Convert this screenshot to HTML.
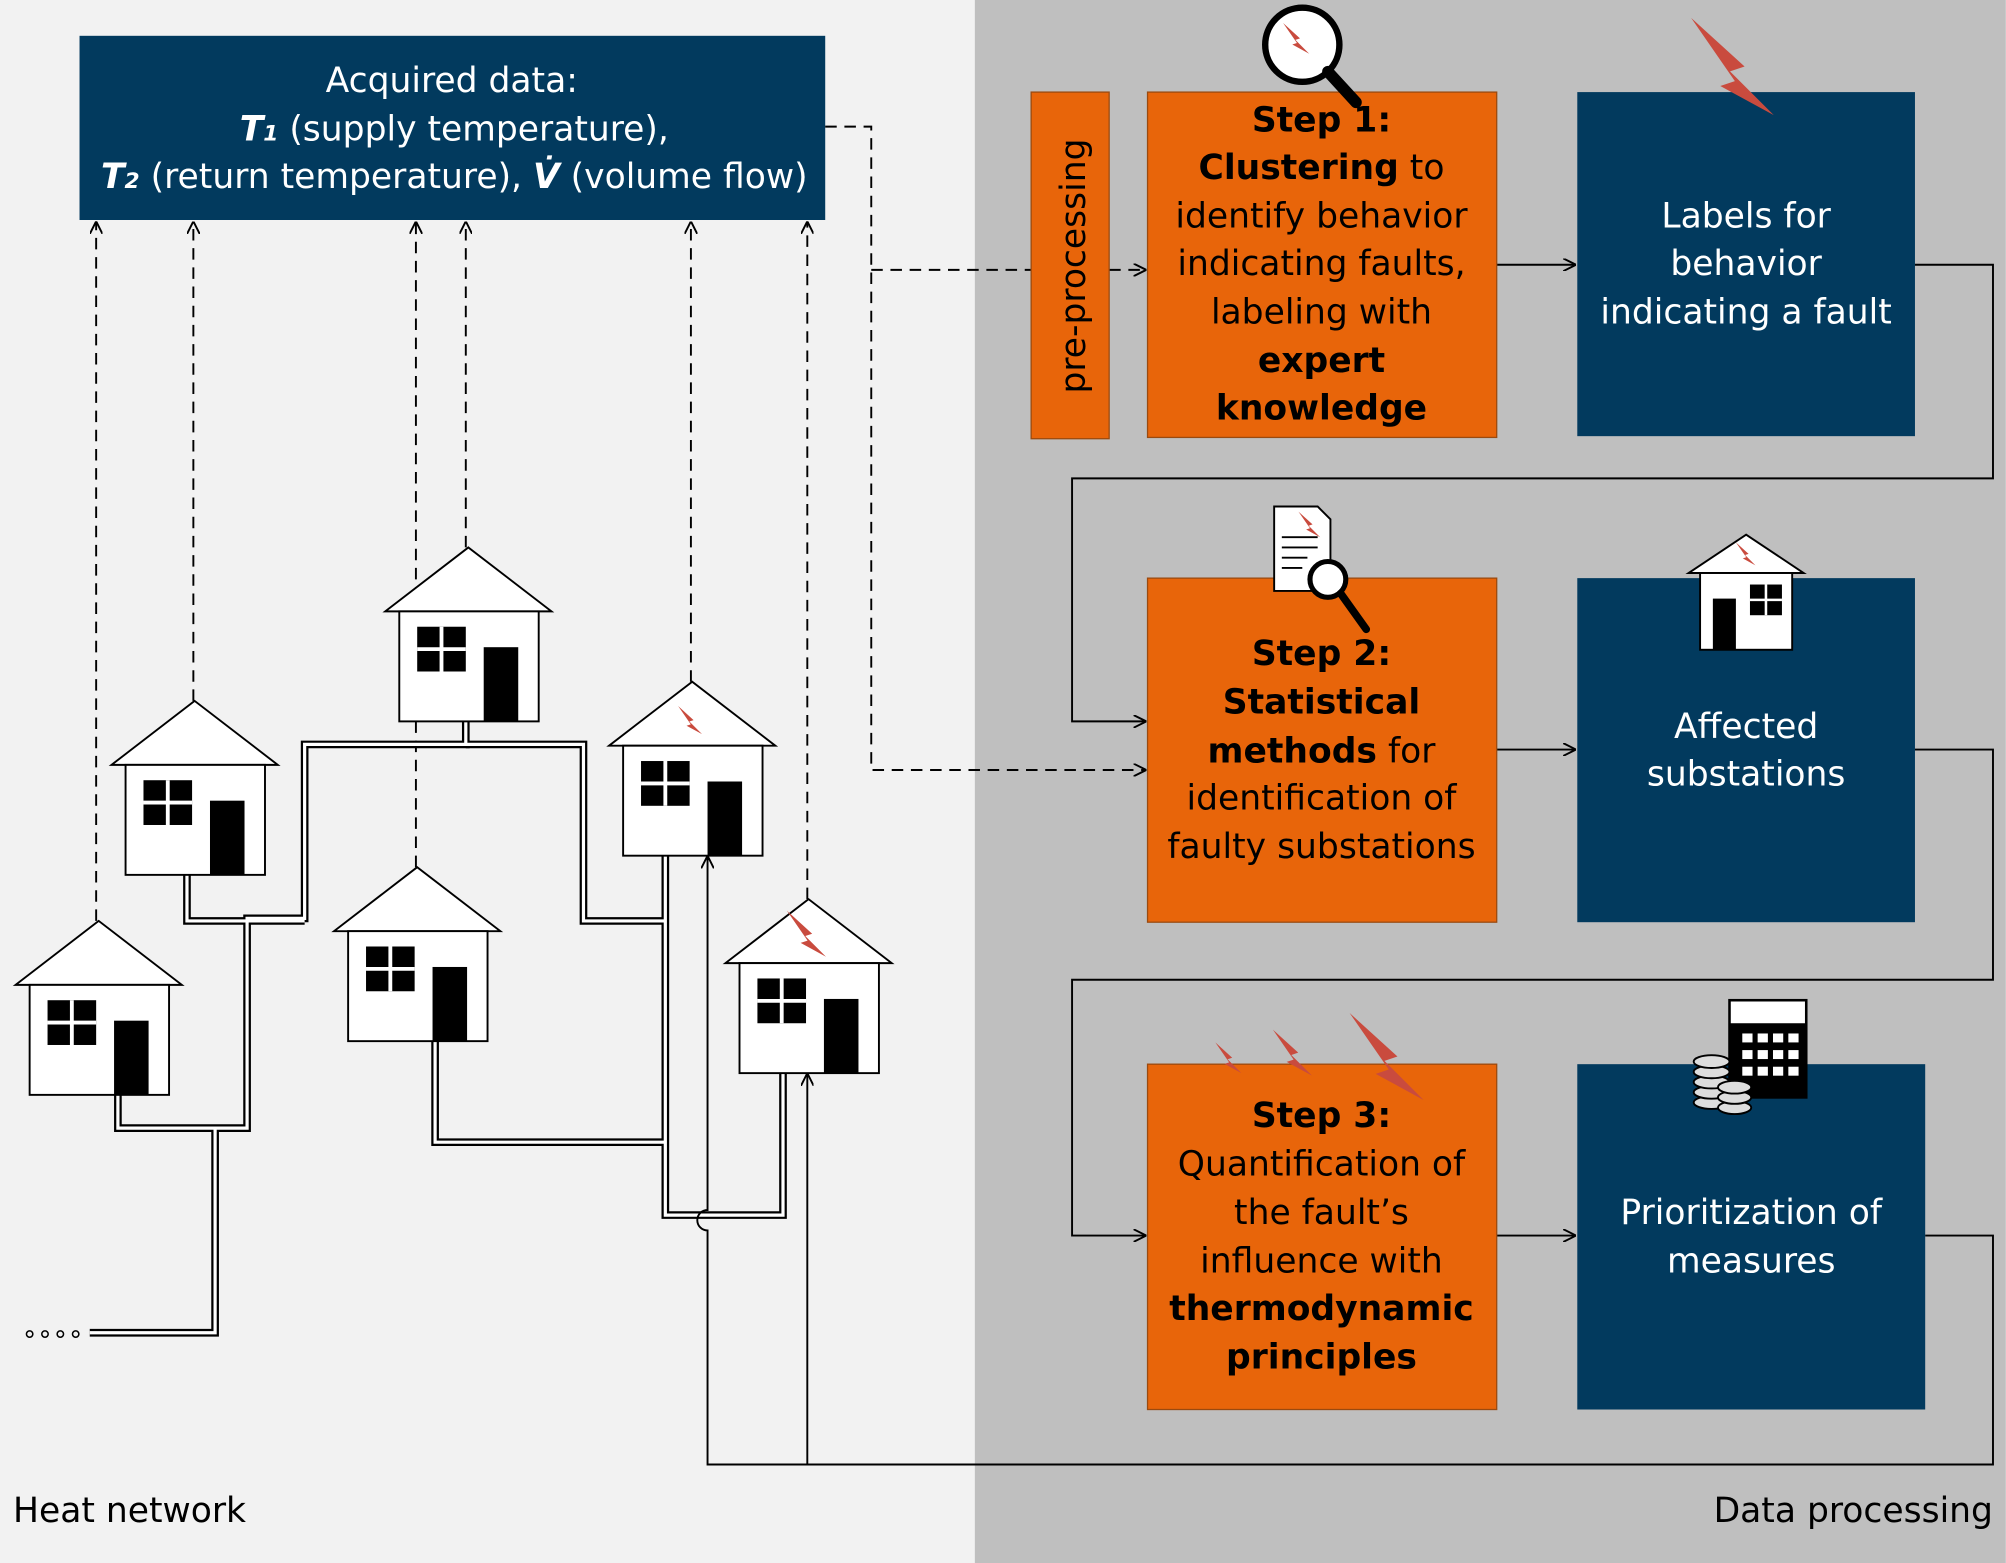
<!DOCTYPE html>
<html><head><meta charset="utf-8"><style>html,body{margin:0;padding:0;background:#f2f2f2}svg{display:block}text{font-family:"DejaVu Sans","Liberation Sans",sans-serif}</style></head><body>
<svg width="2006" height="1563" viewBox="0 0 1568 1222" xmlns="http://www.w3.org/2000/svg">
<defs>
<marker id="ar" viewBox="0 0 10 10" refX="10" refY="5" markerWidth="10" markerHeight="10" markerUnits="userSpaceOnUse" orient="auto"><path d="M0,0 L10,5 L0,10" fill="none" stroke="#000" stroke-width="1.5"/></marker>
<g id="house"><polygon points="0,0 -65,50 65,50" fill="#fff" stroke="#000" stroke-width="1.5"/><rect x="-54" y="50" width="109" height="86" fill="#fff" stroke="#000" stroke-width="1.5"/><rect x="-40" y="62" width="38" height="35" fill="#000"/><line x1="-21" y1="62" x2="-21" y2="97" stroke="#fff" stroke-width="3"/><line x1="-40" y1="79.5" x2="-2" y2="79.5" stroke="#fff" stroke-width="3"/><rect x="12" y="78" width="27" height="58" fill="#000"/></g>
<polygon id="bolt" points="0,0 22,20 16,22 34,40 12,28 18,26" fill="#c94b3e"/>
</defs>
<rect x="0" y="0" width="762" height="1222" fill="#f2f2f2"/>
<rect x="762" y="0" width="806" height="1222" fill="#bfbfbf"/>

<rect x="62" y="28" width="583" height="144" fill="#023a5e"/>
<g fill="#fff" font-size="27" text-anchor="middle">
<text x="353" y="72">Acquired data:</text>
<text x="355" y="110"><tspan font-weight="bold" font-style="italic">T</tspan><tspan font-weight="bold" font-style="italic" font-size="17">1</tspan> (supply temperature),</text>
<text x="355" y="147"><tspan font-weight="bold" font-style="italic">T</tspan><tspan font-weight="bold" font-style="italic" font-size="17">2</tspan> (return temperature), <tspan font-weight="bold" font-style="italic">V̇</tspan> (volume flow)</text>
</g>

<g stroke="#000" stroke-width="1.5" stroke-dasharray="9,6" fill="none">
<path d="M645,99 H681 V602 H896" marker-end="url(#ar)"/>
<path d="M681,211 H806"/>
<path d="M867,211 H896" marker-end="url(#ar)"/>
<path d="M75,720 V173" marker-end="url(#ar)"/>
<path d="M151,548 V173" marker-end="url(#ar)"/>
<path d="M325,678 V173" marker-end="url(#ar)"/>
<path d="M364,428 V173" marker-end="url(#ar)"/>
<path d="M540,533 V173" marker-end="url(#ar)"/>
<path d="M631,703 V173" marker-end="url(#ar)"/>
</g>

<g fill="none">
<g stroke="#000" stroke-width="6">
<path d="M92,856 V882 H193 V718 H238 V582 H364 V562"/>
<path d="M146,684 V720 H238"/>
<path d="M364,582 H456 V720 H520"/>
<path d="M340,812 V893 H520"/>
<path d="M520,668 V950 H612 V838"/>
<path d="M168,882 V1042 H70"/>
</g>
<g stroke="#fff" stroke-width="2.5">
<path d="M92,856 V882 H193 V718 H238 V582 H364 V562"/>
<path d="M146,684 V720 H238"/>
<path d="M364,582 H456 V720 H520"/>
<path d="M340,812 V893 H520"/>
<path d="M520,668 V950 H612 V838"/>
<path d="M168,882 V1042 H70"/>
</g>
</g>
<g fill="none" stroke="#000" stroke-width="1.2"><circle cx="23" cy="1043" r="2.5"/><circle cx="35" cy="1043" r="2.5"/><circle cx="47" cy="1043" r="2.5"/><circle cx="59" cy="1043" r="2.5"/></g>

<use href="#house" x="77" y="720"/>
<use href="#house" x="152" y="548"/>
<use href="#house" x="366" y="428"/>
<use href="#house" x="326" y="678"/>
<use href="#house" x="541" y="533"/>
<use href="#house" x="632" y="703"/>
<use href="#bolt" transform="translate(530,552) scale(0.55)"/>
<use href="#bolt" transform="translate(615,712) scale(0.9)"/>

<g stroke="#000" stroke-width="1.5" fill="none">
<path d="M1497,207 H1558 V374 H838 V564 H896" marker-end="url(#ar)"/>
<path d="M1497,586 H1558 V766 H838 V966 H896" marker-end="url(#ar)"/>
<path d="M1505,966 H1558 V1145 H553 V962 A8,8 0 0 1 553,946 V669" marker-end="url(#ar)"/>
<path d="M631,1145 V839" marker-end="url(#ar)"/>
<path d="M1170,207 H1232" marker-end="url(#ar)"/>
<path d="M1170,586 H1232" marker-end="url(#ar)"/>
<path d="M1170,966 H1232" marker-end="url(#ar)"/>
</g>

<g stroke="#9a4a10" stroke-width="1">
<rect x="806" y="72" width="61" height="271" fill="#e8650a"/>
<rect x="897" y="72" width="273" height="270" fill="#e8650a"/>
<rect x="897" y="452" width="273" height="269" fill="#e8650a"/>
<rect x="897" y="832" width="273" height="270" fill="#e8650a"/>
</g>
<rect x="1233" y="72" width="264" height="269" fill="#023a5e"/>
<rect x="1233" y="452" width="264" height="269" fill="#023a5e"/>
<rect x="1233" y="832" width="272" height="270" fill="#023a5e"/>

<text transform="translate(848,208) rotate(-90)" font-size="27" text-anchor="middle">pre-processing</text>

<g font-size="27" text-anchor="middle" fill="#000">
<text x="1033" y="103" font-weight="bold">Step 1:</text>
<text x="1033" y="140"><tspan font-weight="bold">Clustering</tspan> to</text>
<text x="1033" y="178">identify behavior</text>
<text x="1033" y="215">indicating faults,</text>
<text x="1033" y="253">labeling with</text>
<text x="1033" y="291" font-weight="bold">expert</text>
<text x="1033" y="328" font-weight="bold">knowledge</text>

<text x="1033" y="520" font-weight="bold">Step 2:</text>
<text x="1033" y="558" font-weight="bold">Statistical</text>
<text x="1033" y="596"><tspan font-weight="bold">methods</tspan> for</text>
<text x="1033" y="633">identification of</text>
<text x="1033" y="671">faulty substations</text>

<text x="1033" y="881" font-weight="bold">Step 3:</text>
<text x="1033" y="919">Quantification of</text>
<text x="1033" y="957">the fault’s</text>
<text x="1033" y="995">influence with</text>
<text x="1033" y="1032" font-weight="bold">thermodynamic</text>
<text x="1033" y="1070" font-weight="bold">principles</text>
</g>
<g font-size="27" text-anchor="middle" fill="#fff">
<text x="1365" y="178">Labels for</text>
<text x="1365" y="215">behavior</text>
<text x="1365" y="253">indicating a fault</text>
<text x="1365" y="577">Affected</text>
<text x="1365" y="614">substations</text>
<text x="1369" y="957">Prioritization of</text>
<text x="1369" y="995">measures</text>
</g>

<circle cx="1018" cy="35" r="29" fill="#fff" stroke="#000" stroke-width="5"/>
<line x1="1038" y1="56" x2="1060" y2="80" stroke="#000" stroke-width="9" stroke-linecap="round"/>
<use href="#bolt" transform="translate(1003,18) scale(0.6)"/>
<use href="#bolt" transform="translate(1322,14) scale(1.9)"/>
<path d="M996,396 H1030 L1040,406 V462 H996 Z" fill="#fff" stroke="#000" stroke-width="1.5"/>
<g stroke="#000" stroke-width="1.5"><line x1="1002" y1="420" x2="1030" y2="420"/><line x1="1002" y1="428" x2="1030" y2="428"/><line x1="1002" y1="436" x2="1022" y2="436"/><line x1="1002" y1="444" x2="1018" y2="444"/></g>
<use href="#bolt" transform="translate(1015,400) scale(0.5)"/>
<circle cx="1038" cy="453" r="14" fill="#fff" stroke="#000" stroke-width="4"/>
<line x1="1048" y1="464" x2="1068" y2="492" stroke="#000" stroke-width="6" stroke-linecap="round"/>
<polygon points="1365,418 1320,448 1410,448" fill="#fff" stroke="#000" stroke-width="1.5"/>
<rect x="1329" y="448" width="72" height="60" fill="#fff" stroke="#000" stroke-width="1.5"/>
<rect x="1339" y="468" width="18" height="40" fill="#000"/>
<rect x="1368" y="457" width="25" height="24" fill="#000"/>
<line x1="1380.5" y1="457" x2="1380.5" y2="481" stroke="#fff" stroke-width="2"/><line x1="1368" y1="469" x2="1393" y2="469" stroke="#fff" stroke-width="2"/>
<use href="#bolt" transform="translate(1357,424) scale(0.45)"/>
<use href="#bolt" transform="translate(950,815) scale(0.6)"/>
<use href="#bolt" transform="translate(995,805) scale(0.9)"/>
<use href="#bolt" transform="translate(1055,792) scale(1.7)"/>
<rect x="1352" y="782" width="60" height="76" fill="#fff" stroke="#000" stroke-width="2"/>
<rect x="1352" y="800" width="60" height="58" fill="#000"/>
<g fill="#fff">
<rect x="1362" y="808" width="8" height="7"/><rect x="1374" y="808" width="8" height="7"/><rect x="1386" y="808" width="8" height="7"/><rect x="1398" y="808" width="8" height="7"/>
<rect x="1362" y="821" width="8" height="7"/><rect x="1374" y="821" width="8" height="7"/><rect x="1386" y="821" width="8" height="7"/><rect x="1398" y="821" width="8" height="7"/>
<rect x="1362" y="834" width="8" height="7"/><rect x="1374" y="834" width="8" height="7"/><rect x="1386" y="834" width="8" height="7"/><rect x="1398" y="834" width="8" height="7"/>
</g>
<g fill="#ddd" stroke="#000" stroke-width="1.5">
<ellipse cx="1338" cy="862" rx="14" ry="5"/><ellipse cx="1338" cy="854" rx="14" ry="5"/><ellipse cx="1338" cy="846" rx="14" ry="5"/><ellipse cx="1338" cy="838" rx="14" ry="5"/><ellipse cx="1338" cy="830" rx="14" ry="5"/>
<ellipse cx="1356" cy="866" rx="13" ry="5"/><ellipse cx="1356" cy="858" rx="13" ry="5"/><ellipse cx="1356" cy="850" rx="13" ry="5"/>
</g>

<text x="10" y="1190" font-size="27">Heat network</text>
<text x="1558" y="1190" font-size="27" text-anchor="end">Data processing</text>
</svg>
</body></html>
